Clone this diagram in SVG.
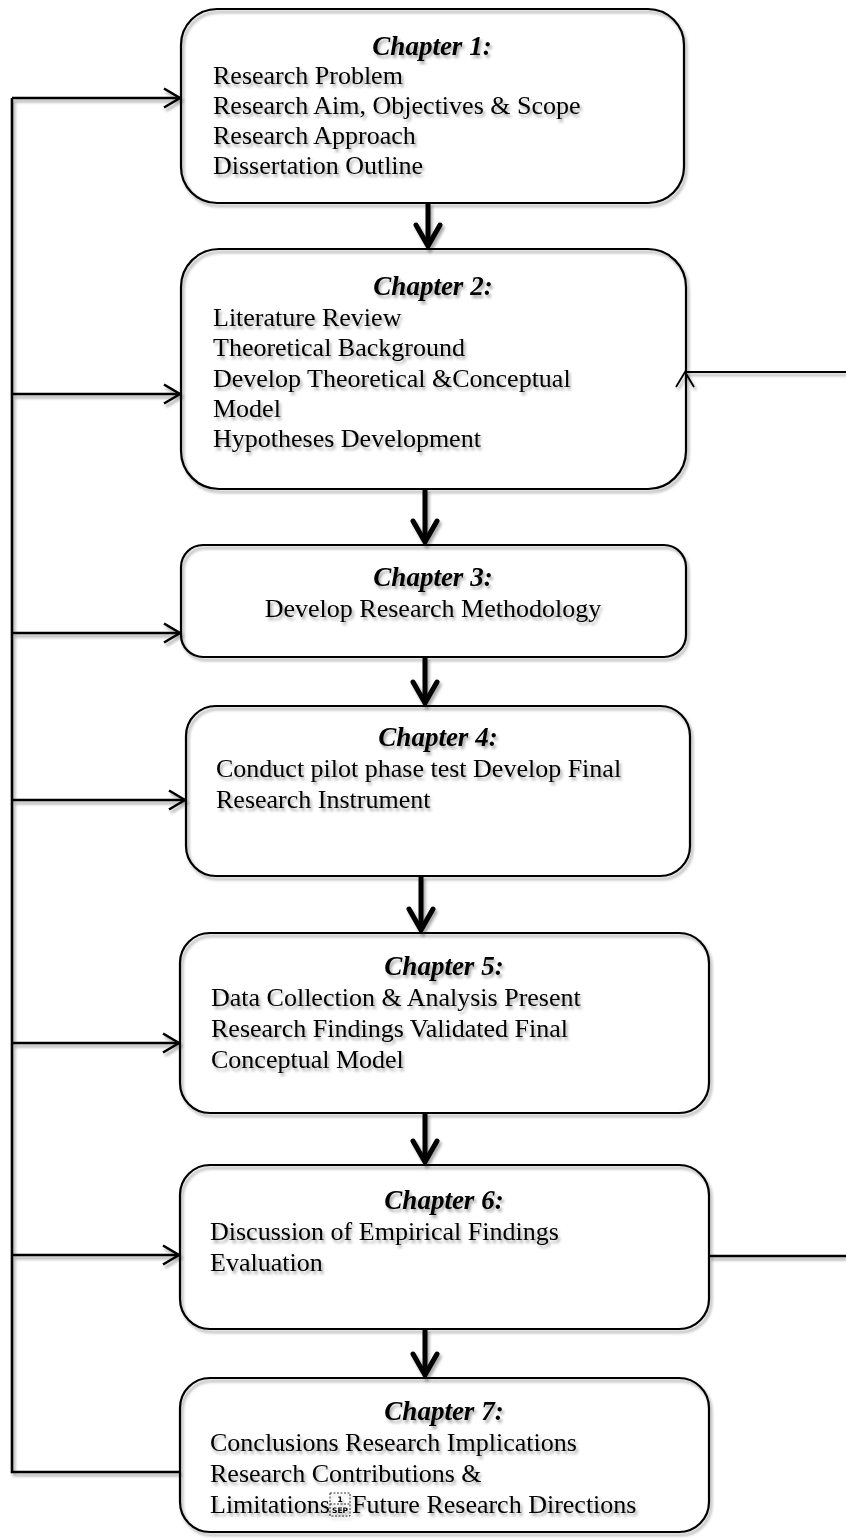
<svg xmlns="http://www.w3.org/2000/svg" width="846" height="1540" viewBox="0 0 846 1540">
  <defs>
    <style>
      .box { fill: none; stroke: #000; stroke-width: 2.2; }
      .head { font-family: "Liberation Serif", "Times New Roman", serif; font-size: 27px; font-weight: bold; font-style: italic; fill: #000; text-anchor: middle; }
      .body { font-family: "Liberation Serif", "Times New Roman", serif; font-size: 26px; fill: #000; }
      .mid { text-anchor: middle; }
      .feed { fill: none; stroke: #000; stroke-width: 2.6; }
      .thin { fill: none; stroke: #000; stroke-width: 1.8; }
      .flow { fill: none; stroke: #000; stroke-width: 5; }
      .soft { filter: url(#shadow); }
      .sep { fill: none; stroke: #000; stroke-width: 0.8; stroke-dasharray: 2 1.5; }
      .sept { font-family: "DejaVu Sans", sans-serif; font-size: 7.5px; font-weight: bold; fill: #000; text-anchor: middle; }
    </style>
    <filter id="shadow" filterUnits="userSpaceOnUse" x="0" y="0" width="846" height="1540">
      <feGaussianBlur in="SourceAlpha" stdDeviation="1.6"/>
      <feOffset dx="2" dy="3"/>
      <feComponentTransfer><feFuncA type="linear" slope="0.35"/></feComponentTransfer>
      <feMerge><feMergeNode/><feMergeNode in="SourceGraphic"/></feMerge>
    </filter>
    <!-- open chevron for the feedback lines entering each chapter -->
    <marker id="open" viewBox="0 0 20 22" refX="18" refY="11" markerWidth="20" markerHeight="22" markerUnits="userSpaceOnUse" orient="auto">
      <path d="M2,1.5 L18,11 L2,20.5" fill="none" stroke="#000" stroke-width="2.6" stroke-linejoin="miter"/>
    </marker>
    <!-- heavy chevron for the main chapter sequence -->
    <marker id="bold" viewBox="0 0 28 30" refX="24" refY="15" markerWidth="28" markerHeight="30" markerUnits="userSpaceOnUse" orient="auto">
      <path d="M3,3 L24,15 L3,27" fill="none" stroke="#000" stroke-width="5" stroke-linecap="round" stroke-linejoin="miter"/>
    </marker>
  </defs>
  <rect x="0" y="0" width="846" height="1540" fill="#fff"/>

  <g id="connectors" class="soft">
    <!-- main sequence -->
    <path class="flow" d="M428,203 V246" marker-end="url(#bold)"/>
    <path class="flow" d="M425,489 V542" marker-end="url(#bold)"/>
    <path class="flow" d="M425,657 V703" marker-end="url(#bold)"/>
    <path class="flow" d="M421,876 V930" marker-end="url(#bold)"/>
    <path class="flow" d="M425,1113 V1162" marker-end="url(#bold)"/>
    <path class="flow" d="M425,1329 V1375" marker-end="url(#bold)"/>
    <!-- feedback spine on the left -->
    <path class="feed" d="M180,1472 H12 V98"/>
    <path class="feed" d="M12,98 H180" marker-end="url(#open)"/>
    <path class="feed" d="M12,394 H180" marker-end="url(#open)"/>
    <path class="feed" d="M12,633 H180" marker-end="url(#open)"/>
    <path class="feed" d="M12,800 H185" marker-end="url(#open)"/>
    <path class="feed" d="M12,1043 H179" marker-end="url(#open)"/>
    <path class="feed" d="M12,1255 H179" marker-end="url(#open)"/>
    <!-- return path on the right -->
    <path class="feed" d="M709,1256 H846"/>
    <path class="thin" d="M846,372 H686"/>
    <path class="thin" d="M676,387 L685,372 L694,387"/>
  </g>

  <g id="chapter1" class="soft">
    <rect class="box" x="181" y="9" width="503" height="194" rx="36"/>
    <text class="head" x="432" y="55">Chapter 1:</text>
    <text class="body" x="213" y="84">Research Problem</text>
    <text class="body" x="213" y="114">Research Aim, Objectives &amp; Scope</text>
    <text class="body" x="213" y="144">Research Approach</text>
    <text class="body" x="213" y="174">Dissertation Outline</text>
  </g>

  <g id="chapter2" class="soft">
    <rect class="box" x="181" y="249" width="505" height="240" rx="38"/>
    <text class="head" x="433" y="295">Chapter 2:</text>
    <text class="body" x="213" y="326">Literature Review</text>
    <text class="body" x="213" y="356">Theoretical Background</text>
    <text class="body" x="213" y="387">Develop Theoretical &amp;Conceptual</text>
    <text class="body" x="213" y="417">Model</text>
    <text class="body" x="213" y="447">Hypotheses Development</text>
  </g>

  <g id="chapter3" class="soft">
    <rect class="box" x="181" y="545" width="505" height="112" rx="22"/>
    <text class="head" x="433" y="586">Chapter 3:</text>
    <text class="body mid" x="433" y="617">Develop Research Methodology</text>
  </g>

  <g id="chapter4" class="soft">
    <rect class="box" x="186" y="706" width="504" height="170" rx="30"/>
    <text class="head" x="438" y="746">Chapter 4:</text>
    <text class="body" x="216" y="777">Conduct pilot phase test Develop Final</text>
    <text class="body" x="216" y="808">Research Instrument</text>
  </g>

  <g id="chapter5" class="soft">
    <rect class="box" x="180" y="933" width="529" height="180" rx="30"/>
    <text class="head" x="444" y="975">Chapter 5:</text>
    <text class="body" x="211" y="1006">Data Collection &amp; Analysis Present</text>
    <text class="body" x="211" y="1037">Research Findings Validated Final</text>
    <text class="body" x="211" y="1068">Conceptual Model</text>
  </g>

  <g id="chapter6" class="soft">
    <rect class="box" x="180" y="1165" width="529" height="164" rx="30"/>
    <text class="head" x="444" y="1209">Chapter 6:</text>
    <text class="body" x="210" y="1240">Discussion of Empirical Findings</text>
    <text class="body" x="210" y="1271">Evaluation</text>
  </g>

  <g id="chapter7" class="soft">
    <rect class="box" x="180" y="1378" width="529" height="154" rx="30"/>
    <text class="head" x="444" y="1420">Chapter 7:</text>
    <text class="body" x="210" y="1451">Conclusions Research Implications</text>
    <text class="body" x="210" y="1482">Research Contributions &amp;</text>
    <text class="body" x="210" y="1513">Limitations</text>
    <!-- separator control glyph between the last two items -->
    <rect class="sep" x="330" y="1493" width="20" height="23"/>
    <line class="sep" x1="330" y1="1504" x2="350" y2="1504"/>
    <text class="sept" x="340" y="1502">1</text>
    <text class="sept" x="340" y="1513">SEP</text>
    <text class="body" x="352" y="1513">Future Research Directions</text>
  </g>
</svg>
